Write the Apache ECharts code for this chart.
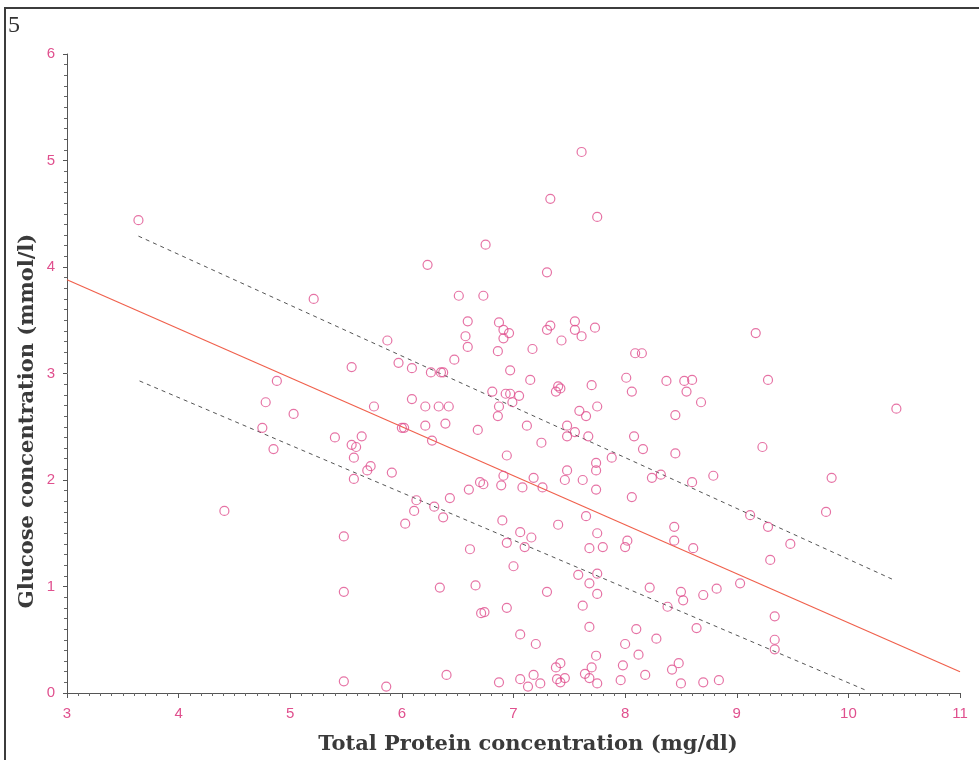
<!DOCTYPE html>
<html>
<head>
<meta charset="utf-8">
<script src="https://cdn.jsdelivr.net/npm/echarts@6/dist/echarts.min.js"></script>
<style>
html,body{margin:0;padding:0;background:#fff;}
#chart{width:979px;height:760px;}
</style>
</head>
<body>
<div id="chart"></div>
<script>
// Axis ticks
var xTicks = [3, 4, 5, 6, 7, 8, 9, 10, 11];
var yTicks = [0, 1, 2, 3, 4, 5, 6];
var xTitle = 'Total Protein concentration (mg/dl)';
var yTitle = 'Glucose concentration (mmol/l)';

// Scatter data: [total protein (mg/dl), glucose (mmol/l)]
var points = [
[3.64,4.44],[5.21,3.70],[5.55,3.06],[4.88,2.93],[4.78,2.73],[5.03,2.62],
[7.61,5.08],[7.33,4.64],[7.75,4.47],[6.75,4.21],[6.23,4.02],[7.30,3.95],
[6.51,3.73],[6.73,3.73],[6.59,3.49],[6.57,3.35],[6.59,3.25],[6.47,3.13],
[5.87,3.31],[5.97,3.10],[6.09,3.05],[6.26,3.01],[6.35,3.01],[6.37,3.01],
[5.75,2.69],[6.09,2.76],[6.21,2.69],[6.33,2.69],[6.42,2.69],
[6.87,3.48],[6.91,3.41],[6.96,3.38],[6.91,3.33],[6.86,3.21],[6.97,3.03],
[7.17,3.23],[7.30,3.41],[7.33,3.45],[7.43,3.31],[7.55,3.49],[7.55,3.41],
[7.61,3.35],[7.73,3.43],[7.15,2.94],[6.81,2.83],[6.93,2.81],[6.97,2.81],
[7.05,2.79],[6.99,2.73],[6.87,2.69],[6.86,2.60],[7.38,2.83],[7.42,2.86],
[7.40,2.88],[7.70,2.89],[7.59,2.65],[7.65,2.60],[7.75,2.69],
[9.17,3.38],[8.09,3.19],[8.15,3.19],[8.01,2.96],[8.06,2.83],[8.37,2.93],
[8.53,2.93],[8.60,2.94],[8.55,2.83],[8.68,2.73],[9.28,2.94],[8.45,2.61],
[10.43,2.67],
[4.75,2.49],[4.85,2.29],[5.40,2.40],[5.55,2.33],[5.59,2.31],[5.57,2.21],
[5.57,2.01],[5.64,2.41],[4.41,1.71],[5.48,1.47],[5.48,0.95],[5.48,0.11],
[7.12,2.51],[7.48,2.51],[7.55,2.45],[7.48,2.41],[7.67,2.41],[7.25,2.35],
[5.72,2.13],[5.69,2.09],[5.91,2.07],[6.00,2.49],[6.02,2.49],[6.21,2.51],
[6.27,2.37],[6.39,2.53],[6.68,2.47],[6.94,2.23],[6.91,2.04],[6.89,1.95],
[6.70,1.98],[6.73,1.96],[6.60,1.91],[6.43,1.83],[6.13,1.81],[6.11,1.71],
[6.29,1.75],[6.37,1.65],[6.03,1.59],[7.08,1.93],[7.18,2.02],[7.26,1.93],
[7.46,2.00],[7.48,2.09],[7.62,2.00],[7.74,2.16],[7.74,2.09],[7.74,1.91],
[7.65,1.66],[7.40,1.58],[6.90,1.62],[7.06,1.51],[7.16,1.46],[6.94,1.41],
[7.10,1.37],[6.61,1.35],[7.68,1.36],[7.75,1.50],[7.00,1.19],
[5.86,0.06],[6.34,0.99],[6.66,1.01],[6.71,0.75],[6.74,0.76],[6.94,0.80],
[7.30,0.95],[7.58,1.11],[7.68,1.03],[7.62,0.82],[7.68,0.62],[7.75,0.93],
[7.75,1.12],[7.06,0.55],[7.20,0.46],[6.40,0.17],[6.87,0.10],[7.06,0.13],
[7.13,0.06],[7.18,0.17],[7.24,0.09],[7.38,0.24],[7.42,0.28],[7.39,0.13],
[7.42,0.10],[7.46,0.14],[7.64,0.18],[7.68,0.14],[7.70,0.24],[7.74,0.35],
[7.75,0.09],
[8.08,2.41],[8.16,2.29],[7.88,2.21],[8.45,2.25],[8.24,2.02],[8.32,2.05],
[8.60,1.98],[8.79,2.04],[9.23,2.31],[9.85,2.02],[9.80,1.70],[9.12,1.67],
[9.28,1.56],[9.48,1.40],[9.30,1.25],[8.06,1.84],[7.80,1.37],[8.00,1.37],
[8.02,1.43],[8.44,1.56],[8.44,1.43],[8.61,1.36],[8.22,0.99],[8.50,0.95],
[8.52,0.87],[8.70,0.92],[8.82,0.98],[8.38,0.81],[9.03,1.03],[9.34,0.72],
[9.34,0.50],[9.34,0.41],[8.10,0.60],[8.64,0.61],[8.28,0.51],[8.00,0.46],
[8.12,0.36],[7.98,0.26],[7.96,0.12],[8.18,0.17],[8.48,0.28],[8.42,0.22],
[8.50,0.09],[8.70,0.10],[8.84,0.12]
];

// Regression line and confidence bounds (endpoints)
var fitLine = [[3, 3.88], [11, 0.20]];
var upperBound = [[3.64, 4.29], [10.39, 1.07]];
var lowerBound = [[3.65, 2.93], [10.17, 0.02]];

var pink = '#e0508e';
var titleStyle = {fontFamily: 'DejaVu Serif', fontWeight: 'bold', fontSize: 21, fill: '#3a3a3a'};
var chart = echarts.init(document.getElementById('chart'));
chart.setOption({
  backgroundColor: '#ffffff',
  animation: false,
  grid: {left: 67, right: 19, top: 54, bottom: 67, containLabel: false, outerBoundsMode: 'none'},
  xAxis: {
    type: 'value', min: xTicks[0], max: xTicks[xTicks.length - 1], interval: 1,
    axisLine: {show: true, lineStyle: {color: '#555', width: 1}},
    axisTick: {show: true, length: 5, lineStyle: {color: '#555'}},
    minorTick: {show: true, splitNumber: 10, length: 3, lineStyle: {color: '#666'}},
    splitLine: {show: false},
    axisLabel: {color: pink, fontFamily: 'Liberation Sans', fontSize: 15, margin: 13}
  },
  yAxis: {
    type: 'value', min: yTicks[0], max: yTicks[yTicks.length - 1], interval: 1,
    axisLine: {show: true, lineStyle: {color: '#555', width: 1}},
    axisTick: {show: true, length: 4, lineStyle: {color: '#555'}},
    minorTick: {show: true, splitNumber: 10, length: 3, lineStyle: {color: '#666'}},
    splitLine: {show: false},
    axisLabel: {color: pink, fontFamily: 'Liberation Sans', fontSize: 15, margin: 12}
  },
  graphic: [
    {type: 'rect', silent: true, shape: {x: 5, y: 8, width: 1000, height: 800},
     style: {fill: 'none', stroke: '#3c3c3c', lineWidth: 2}},
    {type: 'text', left: 8, top: 14, silent: true,
     style: {text: '5', fontFamily: 'Liberation Serif', fontSize: 24, fill: '#333'}},
    {type: 'text', silent: true, x: 528, y: 745,
     style: Object.assign({text: xTitle, align: 'center', verticalAlign: 'middle'}, titleStyle)},
    {type: 'text', silent: true, x: 28, y: 421, rotation: Math.PI / 2,
     style: Object.assign({text: yTitle, align: 'center', verticalAlign: 'middle'}, titleStyle)}
  ],
  series: [
    {type: 'line', data: fitLine, symbol: 'none', lineStyle: {color: '#f0604c', width: 1.2}, z: 3},
    {type: 'line', data: upperBound, symbol: 'none', lineStyle: {color: '#555', width: 1, type: [4, 4]}, z: 3},
    {type: 'line', data: lowerBound, symbol: 'none', lineStyle: {color: '#555', width: 1, type: [4, 4]}, z: 3},
    {type: 'scatter', data: points, symbol: 'circle', symbolSize: 9,
     itemStyle: {color: 'rgba(0,0,0,0)', borderColor: pink, borderWidth: 1.2}, z: 4}
  ]
});
</script>
</body>
</html>
